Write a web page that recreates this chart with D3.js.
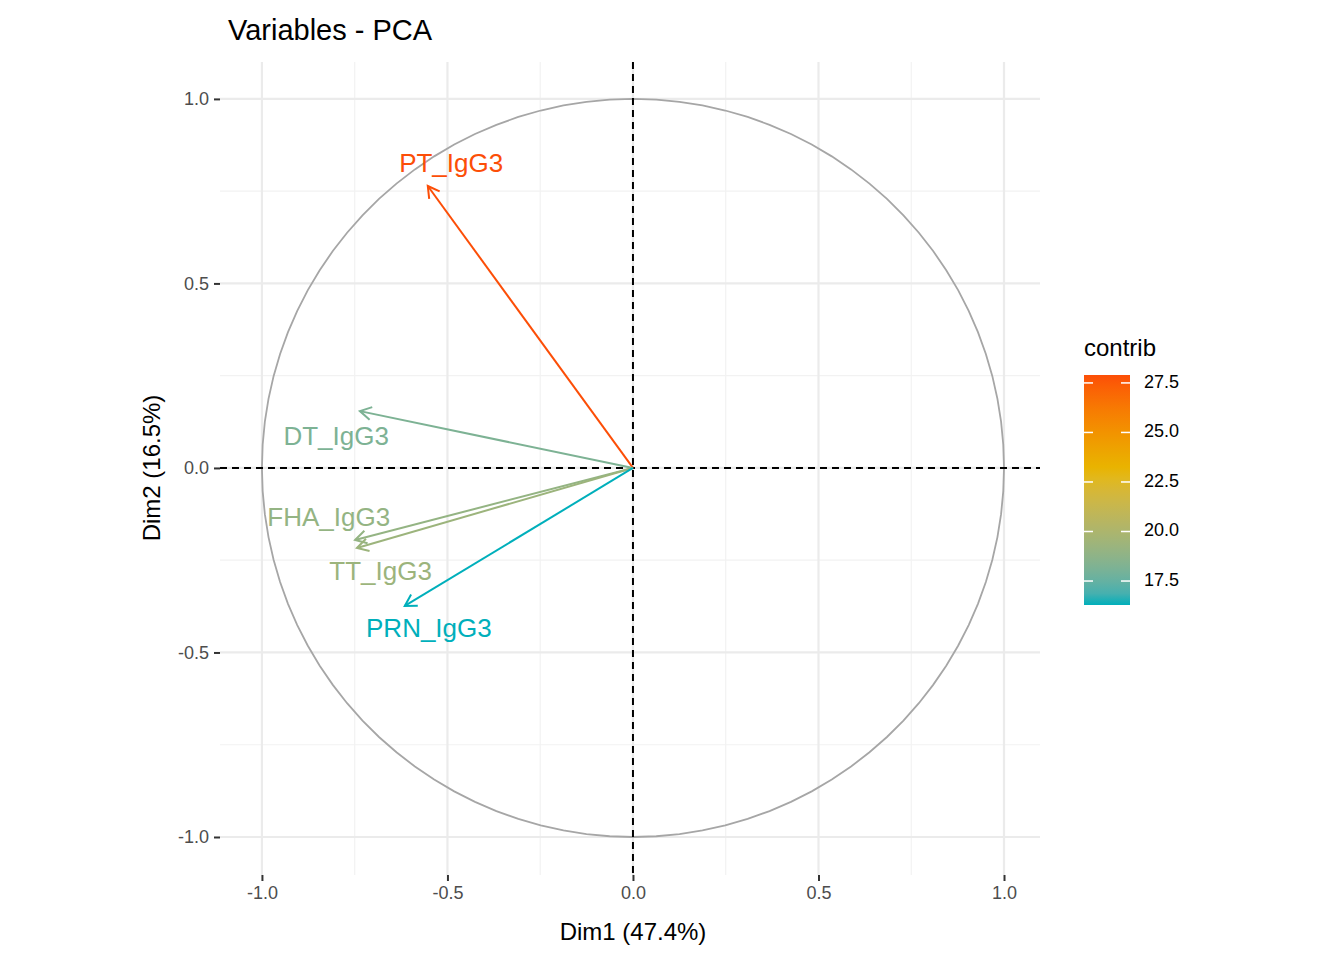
<!DOCTYPE html>
<html><head><meta charset="utf-8">
<script src="https://cdn.jsdelivr.net/npm/d3@7"></script>
<style>body{margin:0;background:#fff;font-family:"Liberation Sans",Arial,sans-serif}</style>
</head><body><svg id="c" width="1344" height="960"></svg>
<script>
const vars = ["PT_IgG3","DT_IgG3","FHA_IgG3","TT_IgG3","PRN_IgG3"];
const dim1 = [-0.553,-0.736,-0.749,-0.744,-0.615];
const dim2 = [0.764,0.154,-0.195,-0.217,-0.374];
const contrib = [27.9,18.2,19.0,19.3,16.3];
const labelX = [-0.49,-0.80,-0.82,-0.68,-0.55];
const labelY = [0.82,0.08,-0.14,-0.285,-0.44];
const ticks = [-1,-0.5,0,0.5,1];
const minor = [-0.75,-0.25,0.25,0.75];
const legendTicks = [17.5,20,22.5,25,27.5];

const svg = d3.select("#c");
const x = d3.scaleLinear().domain([-1.113,1.097]).range([220,1040]);
const y = d3.scaleLinear().domain([-1.103,1.10]).range([875,62]);
const col = d3.scaleLinear().domain([16.3,23,27.9]).range(["#00AFBB","#E7B800","#FC4E07"]).interpolate(d3.interpolateLab);

const g = svg.append("g");
minor.forEach(v=>{
  g.append("line").attr("x1",x(v)).attr("x2",x(v)).attr("y1",62).attr("y2",875).attr("stroke","#f2f2f2").attr("stroke-width",1.2);
  g.append("line").attr("y1",y(v)).attr("y2",y(v)).attr("x1",220).attr("x2",1040).attr("stroke","#f2f2f2").attr("stroke-width",1.2);
});
ticks.forEach(v=>{
  g.append("line").attr("x1",x(v)).attr("x2",x(v)).attr("y1",62).attr("y2",875).attr("stroke","#ebebeb").attr("stroke-width",2.2);
  g.append("line").attr("y1",y(v)).attr("y2",y(v)).attr("x1",220).attr("x2",1040).attr("stroke","#ebebeb").attr("stroke-width",2.2);
});
// circle
const pts = d3.range(0,101).map(i=>[Math.cos(i/100*2*Math.PI),Math.sin(i/100*2*Math.PI)]);
g.append("path").attr("d",d3.line().x(d=>x(d[0])).y(d=>y(d[1]))(pts)).attr("fill","none").attr("stroke","#a6a6a6").attr("stroke-width",1.8);
// dashed axes
g.append("line").attr("x1",220).attr("x2",1040).attr("y1",y(0)).attr("y2",y(0)).attr("stroke","#000").attr("stroke-width",2).attr("stroke-dasharray","7,5");
g.append("line").attr("y1",62).attr("y2",875).attr("x1",x(0)).attr("x2",x(0)).attr("stroke","#000").attr("stroke-width",2).attr("stroke-dasharray","7,5");

// arrows
vars.forEach((v,i)=>{
  const c = col(contrib[i]);
  const x0=x(0),y0=y(0),x1=x(dim1[i]),y1=y(dim2[i]);
  const a=Math.atan2(y1-y0,x1-x0), L=13, s=0.52;
  g.append("line").attr("x1",x0).attr("y1",y0).attr("x2",x1).attr("y2",y1).attr("stroke",c).attr("stroke-width",2);
  g.append("path").attr("d",`M${x1-L*Math.cos(a-s)},${y1-L*Math.sin(a-s)}L${x1},${y1}L${x1-L*Math.cos(a+s)},${y1-L*Math.sin(a+s)}`)
    .attr("fill","none").attr("stroke",c).attr("stroke-width",2);
  g.append("text").attr("x",x(labelX[i])).attr("y",y(labelY[i])).attr("text-anchor","middle").attr("dominant-baseline","middle")
    .attr("font-size",26).attr("fill",c).text(v);
});

// axes
const ax = svg.append("g").attr("transform","translate(0,875)").call(d3.axisBottom(x).tickValues(ticks).tickFormat(d3.format(".1f")).tickSize(6).tickPadding(5));
const ay = svg.append("g").attr("transform","translate(220,0)").call(d3.axisLeft(y).tickValues(ticks).tickFormat(d3.format(".1f")).tickSize(6).tickPadding(5));
[ax,ay].forEach(a=>{a.select(".domain").remove();a.selectAll("line").attr("stroke","#333").attr("stroke-width",2);
  a.selectAll("text").attr("font-size",18).attr("fill","#4d4d4d").attr("font-family","Liberation Sans, Arial");});
ax.selectAll("text").text(d=>d3.format(".1f")(d).replace("−","-"));
ay.selectAll("text").text(d=>d3.format(".1f")(d).replace("−","-"));

svg.append("text").attr("x",228).attr("y",40).attr("font-size",29).text("Variables - PCA");
svg.append("text").attr("x",633).attr("y",940).attr("text-anchor","middle").attr("font-size",24).text("Dim1 (47.4%)");
svg.append("text").attr("transform","translate(160,468) rotate(-90)").attr("text-anchor","middle").attr("font-size",24).text("Dim2 (16.5%)");

// legend
const ly = d3.scaleLinear().domain([16.29,27.9]).range([605,375]);
const defs = svg.append("defs");
const gr = defs.append("linearGradient").attr("id","gr").attr("x1",0).attr("x2",0).attr("y1",1).attr("y2",0);
d3.range(0,21).forEach(i=>{const v=16.29+(27.9-16.29)*i/20; gr.append("stop").attr("offset",i/20).attr("stop-color",col(v));});
svg.append("text").attr("x",1084).attr("y",356).attr("font-size",24).text("contrib");
svg.append("rect").attr("x",1084).attr("y",375).attr("width",46).attr("height",230).attr("fill","url(#gr)");
legendTicks.forEach(t=>{
  svg.append("line").attr("x1",1084).attr("x2",1093).attr("y1",ly(t)).attr("y2",ly(t)).attr("stroke","#fff").attr("stroke-width",1.5);
  svg.append("line").attr("x1",1121).attr("x2",1130).attr("y1",ly(t)).attr("y2",ly(t)).attr("stroke","#fff").attr("stroke-width",1.5);
  svg.append("text").attr("x",1144).attr("y",ly(t)).attr("dominant-baseline","middle").attr("font-size",18).text(t.toFixed(1));
});
</script></body></html>
